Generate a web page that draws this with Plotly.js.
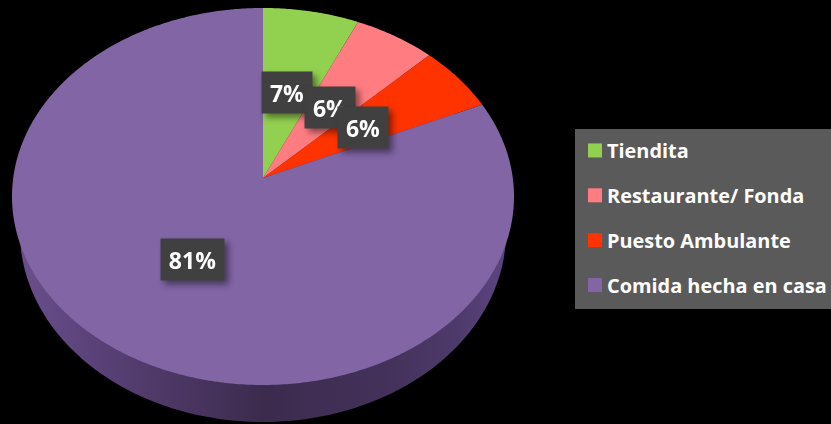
<!DOCTYPE html>
<html><head><meta charset="utf-8">
<script src="https://cdn.plot.ly/plotly-3.0.1.min.js"></script>
<style>
html,body{margin:0;padding:0;background:#000;overflow:hidden}
#chart{width:831px;height:424px}
.annotation{filter:drop-shadow(4px 4px 3px rgba(0,0,0,.45))}
</style></head><body><div id="chart"></div>
<script>
// Data
const categories = ['Tiendita', 'Restaurante/ Fonda', 'Puesto Ambulante', 'Comida hecha en casa'];
const shares = [6.8, 5.8, 5.7, 81.7];
const shareLabels = ['7%', '6%', '6%', '81%'];
const colors = ['#92d050', '#ff7c80', '#ff3300', '#8165a5'];

// Tilted-disc view: a unit circle seen in perspective
const W = 831, H = 424, apexX = 263, apexY = 178;
const scaleX = 249.8, scaleY = 186.7, tilt = 0.098;
const project = a => {
  const d = 1 + tilt * Math.cos(a);
  return [Math.sin(a) / d, Math.cos(a) / d];
};
const traces = [];

// Side wall of the disc
const sideX = [], sideY = [];
for (let i = 0; i <= 360; i += 2) {
  const a = i * Math.PI / 180;
  sideX.push(0.973 * Math.sin(a));
  sideY.push(-0.289 + 1.018 * Math.cos(a));
}
traces.push({
  type: 'scatter', mode: 'none', x: sideX, y: sideY, fill: 'toself',
  fillgradient: {type: 'horizontal', colorscale: [
    [0, '#6a4f8c'], [0.15, '#5a4278'], [0.3, '#4d3866'], [0.5, '#3d2b4e'],
    [0.75, '#43315a'], [0.9, '#4e3a6a'], [1, '#5c4580']]},
  showlegend: false, hoverinfo: 'skip'
});

// Top face slices
let running = 0;
const total = shares.reduce((s, v) => s + v, 0);
shares.forEach((v, k) => {
  const start = running / total * 2 * Math.PI;
  const end = (running + v) / total * 2 * Math.PI;
  running += v;
  const xs = [0], ys = [0];
  const n = Math.ceil((end - start) / 0.01);
  for (let i = 0; i <= n; i++) {
    const p = project(start + (end - start) * i / n);
    xs.push(p[0]); ys.push(p[1]);
  }
  xs.push(0); ys.push(0);
  traces.push({
    type: 'scatter', mode: 'none', x: xs, y: ys, fill: 'toself',
    fillcolor: colors[k], name: categories[k], showlegend: false,
    hoverinfo: 'text', hoveron: 'fills', text: categories[k] + ' ' + shareLabels[k]
  });
});

// Legend entries
categories.forEach((c, k) => traces.push({
  type: 'scatter', mode: 'markers', x: [null], y: [null], name: c, legendgroup: c,
  marker: {symbol: 'square', size: 14, color: colors[k]}, hoverinfo: 'skip'
}));

const labelBoxes = [
  {cx: 287, cy: 93, w: 50},
  {cx: 330, cy: 107, w: 50},
  {cx: 363, cy: 128, w: 50},
  {cx: 192.5, cy: 259, w: 63}
];
const annotations = labelBoxes.map((b, k) => ({
  xref: 'paper', yref: 'paper', x: b.cx / W, y: 1 - b.cy / H,
  xanchor: 'center', yanchor: 'middle', showarrow: false,
  text: '<b>' + shareLabels[k] + '</b>', width: b.w, height: 41,
  bgcolor: '#404040', borderpad: 0, align: 'center', valign: 'middle',
  font: {family: 'Open Sans, sans-serif', size: 23, color: '#ffffff'}
}));

const layout = {
  width: W, height: H, margin: {l: 0, r: 0, t: 0, b: 0, autoexpand: false},
  paper_bgcolor: '#000000', plot_bgcolor: '#000000',
  xaxis: {range: [-apexX / scaleX, (W - apexX) / scaleX], visible: false, fixedrange: true},
  yaxis: {range: [(apexY - H) / scaleY, apexY / scaleY], visible: false, fixedrange: true},
  shapes: [{type: 'rect', xref: 'paper', yref: 'paper', layer: 'below',
    x0: 575 / W, x1: 1, y0: 1 - 309 / H, y1: 1 - 129 / H,
    fillcolor: '#5a5a5a', line: {width: 0}}],
  annotations,
  showlegend: true,
  legend: {
    x: 575 / W, y: 1 - 131 / H, xanchor: 'left', yanchor: 'top',
    bgcolor: 'rgba(0,0,0,0)', borderwidth: 0, tracegroupgap: 16,
    traceorder: 'grouped', entrywidth: 216, entrywidthmode: 'pixels',
    font: {family: 'Open Sans, sans-serif', size: 19.9, color: '#ffffff', weight: 700}
  }
};
Plotly.newPlot('chart', traces, layout, {displayModeBar: false, responsive: false}).then(() => {
  document.querySelectorAll('.legendtext').forEach(t => t.setAttribute('x', '32'));
});
</script></body></html>
